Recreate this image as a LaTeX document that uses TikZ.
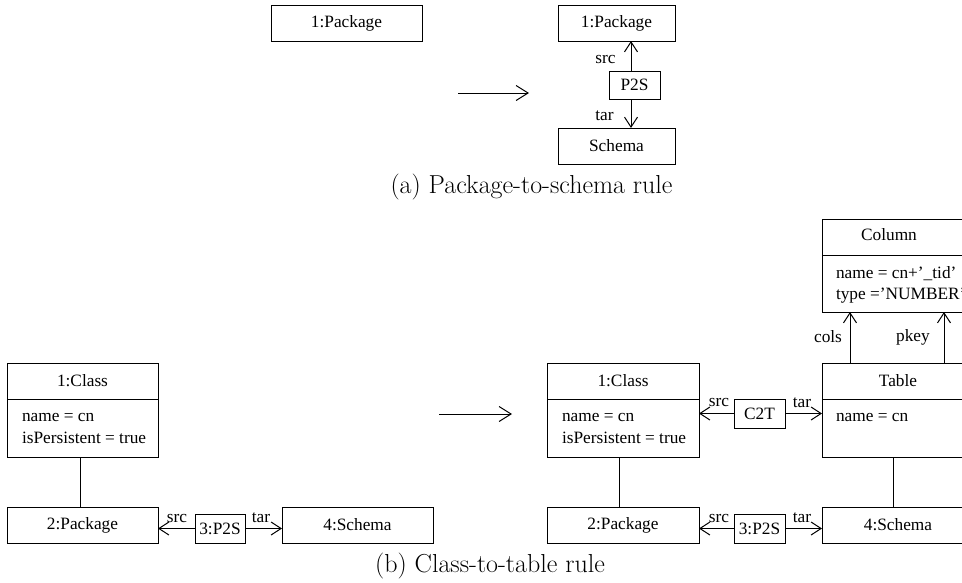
\documentclass[tikz,border=0pt]{standalone}
\usepackage{fontspec}
\newfontfamily\tms{Liberation Serif}
\usetikzlibrary{arrows.meta}
\begin{document}
\begin{tikzpicture}[x=1pt,y=-1pt,
  every node/.style={inner sep=0pt, outer sep=0pt},
  tx/.style={font=\tms\fontsize{17.3}{21}\selectfont},
  box/.style={tx, draw, line width=1pt, minimum height=36pt},
  captxt/.style={font=\fontsize{26}{30}\selectfont},
  lnk/.style={line width=1pt},
  ref/.style={line width=1pt, -{Straight Barb[length=10pt,width=13pt,line width=1pt]}},
  trans/.style={line width=1pt, -{Straight Barb[length=12pt,width=15pt,line width=1pt]}},
]
\useasboundingbox (0,0) rectangle (962,582);
\clip (0,0) rectangle (962,582);

% ---------- (a) ----------
\node[box, minimum width=151pt] (pa1) at (346.5,23) {1:Package};
\node[box, minimum width=117pt] (pb1) at (616.5,23) {1:Package};
\node[box, minimum width=117pt] (sch) at (616.5,146) {Schema};
\node[box, minimum width=51pt, minimum height=28pt] (p2s) at (634.5,85) {P2S};
\draw[ref] ([xshift=-3.5pt]p2s.north) -- ([xshift=-3.5pt]p2s.north |- pb1.south);
\draw[ref] ([xshift=-3.5pt]p2s.south) -- ([xshift=-3.5pt]p2s.south |- sch.north);
\node[tx] (asrc) at (605.5,59.5) {src};
\node[tx] (atar) at (604.5,116) {tar};
\coordinate (ta1) at (458,93);
\coordinate (ta2) at (529,93);
\draw[trans] (ta1) -- (ta2);
\node[captxt, anchor=base] (capa) at (531.5,193) {(a) Package-to-schema rule};

% ---------- (b) left ----------
\node[box, minimum width=151pt] (lch) at (82.5,381) {1:Class};
\node[box, minimum width=151pt, minimum height=58pt] (lcb) at (82.5,428) {};
\node[tx, anchor=base west] (lcn) at (22,421) {name = cn};
\node[tx, anchor=base west] (lcp) at (22,443) {isPersistent = true};
\node[box, minimum width=151pt] (lpk) at (82.5,525) {2:Package};
\node[box, minimum width=50pt, minimum height=29pt] (lps) at (220,528.5) {3:P2S};
\node[box, minimum width=151pt] (lsc) at (357.5,525) {4:Schema};
\draw[lnk] ([xshift=-2.5pt]lcb.south) -- ([xshift=-2.5pt]lpk.north);
\draw[ref] (lps.west) -- (lps.west -| lpk.east);
\draw[ref] (lps.east) -- (lps.east -| lsc.west);
\node[tx] (lsrc) at (177,518) {src};
\node[tx] (ltar) at (261,518) {tar};

\coordinate (tb1) at (439,414);
\coordinate (tb2) at (512,414);
\draw[trans] (tb1) -- (tb2);

% ---------- (b) right ----------
\node[box, minimum width=152pt] (rch) at (623,381) {1:Class};
\node[box, minimum width=152pt, minimum height=58pt] (rcb) at (623,428) {};
\node[tx, anchor=base west] (rcn) at (562,421) {name = cn};
\node[tx, anchor=base west] (rcp) at (562,443) {isPersistent = true};
\node[box, minimum width=51pt, minimum height=29pt] (c2t) at (759.5,413.5) {C2T};
\node[box, minimum width=152pt] (tbh) at (898,381) {Table};
\node[box, minimum width=152pt, minimum height=58pt] (tbb) at (898,428) {};
\node[tx, anchor=base west] (tbn) at (836,421) {name = cn};
\draw[ref] (c2t.west) -- (c2t.west -| rcb.east);
\draw[ref] (c2t.east) -- (c2t.east -| tbb.west);
\node[tx] (csrc) at (719,403) {src};
\node[tx] (ctar) at (802,403) {tar};

\node[box, minimum width=152pt] (rpk) at (623,525) {2:Package};
\node[box, minimum width=51pt, minimum height=29pt] (rps) at (759.5,528.5) {3:P2S};
\node[box, minimum width=152pt] (rsc) at (898,525) {4:Schema};
\draw[ref] (rps.west) -- (rps.west -| rpk.east);
\draw[ref] (rps.east) -- (rps.east -| rsc.west);
\node[tx] (rsrc) at (719,518) {src};
\node[tx] (rtar) at (802,518) {tar};
\draw[lnk] ([xshift=-4pt]rcb.south) -- ([xshift=-4pt]rpk.north);
\draw[lnk] ([xshift=-5pt]tbb.south) -- ([xshift=-5pt]rsc.north);

% Column
\node[box, minimum width=152pt] (colh) at (898,237) {};
\node[tx] (colt) at (889,235) {Column};
\node[box, minimum width=152pt, minimum height=57pt] (colb) at (898,283.5) {};
\node[tx, anchor=base west] (coln) at (836,278) {name = cn+’\_tid’};
\node[tx, anchor=base west] (colty) at (836,299) {type =’NUMBER’};
\draw[ref] ([xshift=-48pt]tbh.north) -- ([xshift=-48pt]tbh.north |- colb.south);
\draw[ref] ([xshift=46pt]tbh.north) -- ([xshift=46pt]tbh.north |- colb.south);
\node[tx] (lcols) at (828,337) {cols};
\node[tx] (lpkey) at (913,337) {pkey};

\node[captxt, anchor=base] (capb) at (490,572) {(b) Class-to-table rule};
\end{tikzpicture}
\end{document}
